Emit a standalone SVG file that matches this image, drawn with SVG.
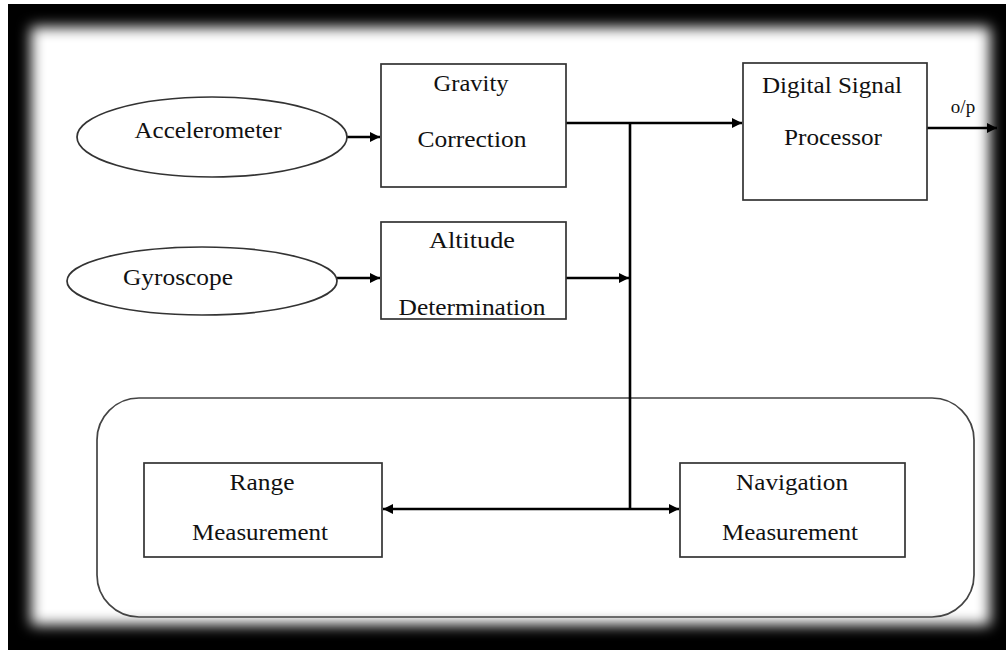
<svg xmlns="http://www.w3.org/2000/svg" width="1006" height="650" viewBox="0 0 1006 650">
  <defs>
    <filter id="soft" filterUnits="userSpaceOnUse" x="-50" y="-50" width="1106" height="750">
      <feGaussianBlur stdDeviation="7"/>
    </filter>
    <marker id="ah" viewBox="0 0 10 10" refX="10" refY="5" markerWidth="12" markerHeight="10" markerUnits="userSpaceOnUse" orient="auto">
      <path d="M0,0 L10,5 L0,10 z" fill="#000"/>
    </marker>
    <style>
      .box{fill:#fff;stroke:#333;stroke-width:1.7}
      .ell{fill:#fff;stroke:#333;stroke-width:1.7}
      .cont{fill:none;stroke:#444;stroke-width:1.7}
      .lbl{font-family:"Liberation Serif","Times New Roman",serif;font-size:23.5px;fill:#111}
      .wire{fill:none;stroke:#000;stroke-width:2.6}
      .arr{fill:none;stroke:#000;stroke-width:2.6;marker-end:url(#ah)}
    </style>
  </defs>

  <g id="frame">
    <rect x="0" y="0" width="1006" height="650" fill="#000"/>
    <rect x="0" y="0" width="1006" height="4" fill="#fff"/>
    <rect x="0" y="0" width="8" height="650" fill="#fff"/>
    <rect x="31" y="27" width="959" height="598" fill="#fff" filter="url(#soft)"/>
  </g>

  <g id="container">
    <rect class="cont" x="97" y="398" width="877" height="219" rx="42" ry="42"/>
  </g>

  <g id="connectors">
    <line class="arr" x1="347" y1="137" x2="380" y2="137"/>
    <line class="arr" x1="337" y1="278" x2="380" y2="278"/>
    <line class="arr" x1="566" y1="278" x2="629" y2="278"/>
    <line class="arr" x1="566" y1="123" x2="742" y2="123"/>
    <line class="wire" x1="630" y1="123" x2="630" y2="509"/>
    <line class="arr" x1="630" y1="509" x2="383" y2="509"/>
    <line class="arr" x1="630" y1="509" x2="679" y2="509"/>
    <line class="arr" x1="927" y1="128" x2="997" y2="128"/>
    <text class="lbl" x="963" y="113" text-anchor="middle" style="font-size:19px">o/p</text>
  </g>

  <g id="accelerometer">
    <ellipse class="ell" cx="212" cy="137" rx="135" ry="40"/>
    <text class="lbl" x="208" y="138" text-anchor="middle" textLength="147" lengthAdjust="spacingAndGlyphs">Accelerometer</text>
  </g>

  <g id="gyroscope">
    <ellipse class="ell" cx="202" cy="281" rx="135" ry="34"/>
    <text class="lbl" x="178" y="285" text-anchor="middle" textLength="110" lengthAdjust="spacingAndGlyphs">Gyroscope</text>
  </g>

  <g id="gravity-correction">
    <rect class="box" x="381" y="64" width="185" height="123"/>
    <text class="lbl" x="471" y="91" text-anchor="middle" textLength="75" lengthAdjust="spacingAndGlyphs">Gravity</text>
    <text class="lbl" x="472" y="147" text-anchor="middle" textLength="109" lengthAdjust="spacingAndGlyphs">Correction</text>
  </g>

  <g id="altitude-determination">
    <rect class="box" x="381" y="222" width="185" height="97"/>
    <text class="lbl" x="472" y="248" text-anchor="middle" textLength="86" lengthAdjust="spacingAndGlyphs">Altitude</text>
    <text class="lbl" x="472" y="315" text-anchor="middle" textLength="147" lengthAdjust="spacingAndGlyphs">Determination</text>
  </g>

  <g id="digital-signal-processor">
    <rect class="box" x="743" y="63" width="184" height="137"/>
    <text class="lbl" x="832" y="93" text-anchor="middle" textLength="140" lengthAdjust="spacingAndGlyphs">Digital Signal</text>
    <text class="lbl" x="833" y="145" text-anchor="middle" textLength="98" lengthAdjust="spacingAndGlyphs">Processor</text>
  </g>

  <g id="range-measurement">
    <rect class="box" x="144" y="463" width="238" height="94"/>
    <text class="lbl" x="262" y="490" text-anchor="middle" textLength="65" lengthAdjust="spacingAndGlyphs">Range</text>
    <text class="lbl" x="260" y="540" text-anchor="middle" textLength="136" lengthAdjust="spacingAndGlyphs">Measurement</text>
  </g>

  <g id="navigation-measurement">
    <rect class="box" x="680" y="463" width="225" height="94"/>
    <text class="lbl" x="792" y="490" text-anchor="middle" textLength="112" lengthAdjust="spacingAndGlyphs">Navigation</text>
    <text class="lbl" x="790" y="540" text-anchor="middle" textLength="136" lengthAdjust="spacingAndGlyphs">Measurement</text>
  </g>
</svg>
